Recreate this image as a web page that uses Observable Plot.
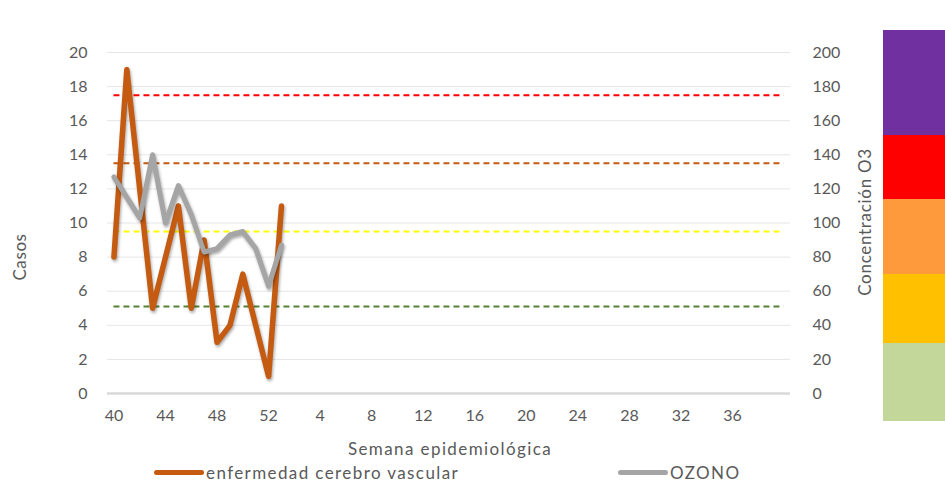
<!DOCTYPE html>
<html>
<head>
<meta charset="utf-8">
<script src="https://cdn.jsdelivr.net/npm/d3@7"></script>
<script src="https://cdn.jsdelivr.net/npm/@observablehq/plot@0.6"></script>
<style>
  html, body { margin: 0; padding: 0; background: #fff; }
  #wrap { position: relative; width: 945px; height: 486px; overflow: hidden; font-family: Lato, "Open Sans", sans-serif; color: #595959; }
  #chart { position: absolute; left: 0; top: 0; }
  .lbl { position: absolute; font-size: 17px; white-space: nowrap; color: #595959; }
  .band { position: absolute; }
  .leg { position: absolute; display: flex; align-items: center; font-size: 17px; letter-spacing: 1.4px; color: #595959; }
  .leg span.sw { display: inline-block; height: 5px; border-radius: 3px; margin-right: 2px; }
</style>
</head>
<body>
<div id="wrap">
  <div id="bands"></div>
  <div id="chart"></div>
  <div class="lbl" id="xtitle" style="left:0;width:900px;text-align:center;top:438px;letter-spacing:1.4px;">Semana epidemiológica</div>
  <div class="lbl" id="ytitle" style="left:19px;top:257px;transform:translate(-50%,-50%) rotate(-90deg);letter-spacing:0.6px;">Casos</div>
  <div class="lbl" id="y2title" style="left:864px;top:222px;transform:translate(-50%,-50%) rotate(-90deg);letter-spacing:0.7px;">Concentración O3</div>
  <div id="legend"></div>
</div>
<script>
// Category labels (epidemiological weeks)
const weeks = [40,41,42,43,44,45,46,47,48,49,50,51,52,1,2,3,4,5,6,7,8,9,10,11,12,13,14,15,16,17,18,19,20,21,22,23,24,25,26,27,28,29,30,31,32,33,34,35,36,37,38,39,40];
const tickIndex = [0,4,8,12,16,20,24,28,32,36,40,44,48];
// Series
const casos = [8,19,12,5,8,11,5,9,3,4,7,4,1,11];
const ozono = [127,115,103,140,100,122,105,83,85,93,95,85,63,87];
// Ozone thresholds (right axis units)
const thresholds = [51,95,135,175];
const thresholdColors = ["#548235","#FFFF00","#C55A11","#FF0000"];
// Axis ticks
const leftTicks = [0,2,4,6,8,10,12,14,16,18,20];
const rightTicks = [0,20,40,60,80,100,120,140,160,180,200];
// Air-quality colour bands on the right
const bandColors = ["#7030A0","#FF0000","#FF9A3C","#FFC000","#C4D79B"];

const idx = weeks.map((w, i) => i);
const scaleR = 10; // right axis value / left axis value

const thresholdMarks = thresholds.map((t, k) =>
  Plot.ruleY([t], {y: d => d / scaleR, x1: () => idx[0], x2: () => idx[idx.length - 1],
    stroke: thresholdColors[k], strokeWidth: 2, strokeDasharray: "6,4"})
);

const chart = Plot.plot({
  width: 945,
  height: 486,
  marginLeft: 107,
  marginRight: 155,
  marginTop: 52,
  marginBottom: 93,
  style: {fontFamily: "Lato, 'Open Sans', sans-serif", fontSize: "16px", color: "#595959", background: "transparent", overflow: "visible"},
  x: {type: "point", domain: idx, padding: 0.5},
  y: {domain: [0, 20]},
  marks: [
    Plot.gridY(leftTicks, {stroke: "#e6e6e6", strokeOpacity: 1, strokeWidth: 1}),
    Plot.ruleY([0], {stroke: "#d9d9d9", strokeWidth: 2.5}),
    ...thresholdMarks,
    Plot.axisY(leftTicks, {anchor: "left", tickSize: 0, tickPadding: 20, label: null, fill: "#595959"}),
    Plot.axisY(rightTicks.map(v => v / scaleR), {anchor: "right", tickSize: 0, tickPadding: 22, label: null,
      tickFormat: d => String(Math.round(d * scaleR)), fill: "#595959"}),
    Plot.axisX(tickIndex, {anchor: "bottom", tickSize: 0, tickPadding: 16, label: null,
      tickFormat: i => String(weeks[i]), fill: "#595959"}),
    Plot.lineY(casos, {x: (d, i) => idx[i], y: d => d, stroke: "#C55A11", strokeWidth: 5.5,
      strokeLinejoin: "round", strokeLinecap: "round"}),
    Plot.lineY(ozono, {x: (d, i) => idx[i], y: d => d / scaleR, stroke: "#A5A5A5", strokeWidth: 5,
      strokeLinejoin: "round", strokeLinecap: "round"})
  ]
});
chart.querySelectorAll('g[aria-label="line"]').forEach(g => {
  g.style.filter = "drop-shadow(1px 2px 1.5px rgba(0,0,0,0.35))";
});
document.getElementById("chart").appendChild(chart);

// colour bands (decorative legend of air quality)
const bandTops = [30, 135, 199, 274, 343, 421];
const bandsDiv = document.getElementById("bands");
bandColors.forEach((c, i) => {
  const d = document.createElement("div");
  d.className = "band";
  d.style.left = "883px";
  d.style.width = "62px";
  d.style.top = bandTops[i] + "px";
  d.style.height = (bandTops[i + 1] - bandTops[i]) + "px";
  d.style.background = c;
  bandsDiv.appendChild(d);
});

// legend
const legendItems = [
  {name: "enfermedad cerebro vascular", color: "#C55A11", left: 154},
  {name: "OZONO", color: "#A5A5A5", left: 618}
];
const legendDiv = document.getElementById("legend");
legendItems.forEach(it => {
  const d = document.createElement("div");
  d.className = "leg";
  d.style.left = it.left + "px";
  d.style.top = "462px";
  d.innerHTML = `<span class="sw" style="width:50px;background:${it.color}"></span><span>${it.name}</span>`;
  legendDiv.appendChild(d);
});
</script>
</body>
</html>
